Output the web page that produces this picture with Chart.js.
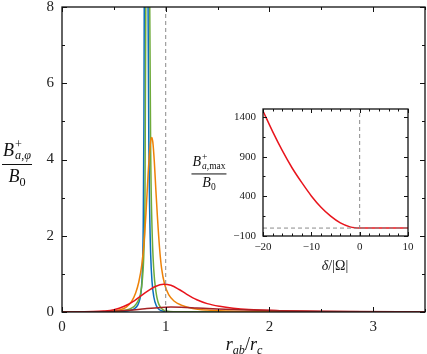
<!DOCTYPE html>
<html><head><meta charset="utf-8">
<script src="https://cdn.jsdelivr.net/npm/chart.js@4/dist/chart.umd.min.js"></script>
<style>
html,body{margin:0;padding:0;background:#fff;}
#wrap{position:relative;width:427px;height:354px;overflow:hidden;}
#main{position:absolute;left:0;top:0;}
#inset{position:absolute;left:180px;top:100px;}
.lbl{position:absolute;font-family:'Liberation Serif','DejaVu Serif',serif;color:#111;white-space:nowrap;line-height:1;}
.frac{display:flex;flex-direction:column;align-items:center;transform:translate(-50%,-50%);}
.frac .num{border-bottom:1px solid #111;padding:0 1px 3px 1px;}
.frac .den{padding-top:2px;}
.ss{display:inline-block;vertical-align:-0.28em;line-height:0.9;margin-left:1px;text-align:left;font-size:0.68em;}
.ss span{display:block;}
.sb{font-size:0.68em;position:relative;top:0.3em;}
.ctr{transform:translate(-50%,-50%);}
</style></head>
<body>
<div id="wrap">
<canvas id="main" width="427" height="354"></canvas>
<canvas id="inset" width="240" height="180"></canvas>
<div class="lbl frac" style="left:17px;top:162px;font-size:18px;">
  <div class="num"><i>B</i><span class="ss"><span>+</span><span><i>a</i>,<i>φ</i></span></span></div>
  <div class="den"><i>B</i><span class="sb">0</span></div>
</div>
<div class="lbl frac" style="left:209px;top:172px;font-size:14px;">
  <div class="num"><i>B</i><span class="ss"><span>+</span><span><i>a</i>,max</span></span></div>
  <div class="den"><i>B</i><span class="sb">0</span></div>
</div>
<div class="lbl ctr" style="left:244px;top:344px;font-size:18px;"><i>r</i><span class="sb"><i>ab</i></span>/<i>r</i><span class="sb"><i>c</i></span></div>
<div class="lbl ctr" style="left:335px;top:266px;font-size:14px;"><i>δ</i>/|Ω|</div>
</div>
<script>
// ---------------- main panel data ----------------
const mainXTicks=[0,0.5,1,1.5,2,2.5,3,3.5];
const mainYTicks=[0,1,2,3,4,5,6,7,8];
const blueX=[0,0.4,0.55,0.65,0.7,0.73,0.75,0.765,0.775,0.783,0.79,0.797,0.81,0.823,0.83,0.837,0.845,0.855,0.868,0.885,0.91,0.94,0.98,1.05,1.3,3.5];
const blueY=[0,0.002,0.01,0.04,0.09,0.18,0.33,0.6,1.1,2.2,5,12,40,12,8,4.5,2.7,1.5,0.8,0.4,0.16,0.06,0.02,0.005,0.001,0];
const greenX=[0,0.4,0.55,0.62,0.67,0.7,0.73,0.755,0.775,0.79,0.8,0.808,0.815,0.827,0.839,0.846,0.855,0.868,0.885,0.905,0.925,0.95,0.98,1.03,1.15,1.5,3.5];
const greenY=[0,0.003,0.02,0.05,0.1,0.16,0.27,0.45,0.85,1.6,3.0,8,14,40,14,8,4.2,2.2,1.1,0.55,0.27,0.12,0.05,0.015,0.004,0.001,0];
const orangeX=[0,0.3,0.45,0.55,0.62,0.67,0.71,0.74,0.77,0.79,0.81,0.83,0.845,0.857,0.866,0.876,0.89,0.905,0.92,0.94,0.96,0.99,1.03,1.08,1.15,1.25,1.4,1.6,2.0,2.6,3.5];
const orangeY=[0,0.003,0.015,0.05,0.13,0.27,0.5,0.78,1.25,1.8,2.6,3.6,4.2,4.52,4.58,4.45,3.95,3.2,2.5,1.7,1.15,0.72,0.45,0.29,0.18,0.1,0.05,0.025,0.01,0.004,0.002];
const redX=[0,0.3,0.4,0.5,0.6,0.7,0.8,0.9,0.98,1.05,1.13,1.2,1.3,1.4,1.52,1.65,1.8,2.1,2.5,3.0,3.5];
const redY=[0,0.01,0.025,0.06,0.15,0.3,0.5,0.67,0.73,0.70,0.59,0.47,0.32,0.22,0.15,0.1,0.065,0.035,0.015,0.007,0.004];
const darkRedX=[0,0.3,0.5,0.65,0.8,0.95,1.05,1.15,1.3,1.5,1.8,2.2,2.8,3.5];
const darkRedY=[0,0.005,0.02,0.045,0.085,0.118,0.128,0.124,0.105,0.08,0.05,0.027,0.012,0.005];
const mainRefX=[1,1];
const mainRefY=[0,8];
// ---------------- inset data ----------------
const insetXTicks=[-20,-18,-16,-14,-12,-10,-8,-6,-4,-2,0,2,4,6,8,10];
const insetYTicks=[-100,150,400,650,900,1150,1400];
const insetMajorX=[-20,-10,0,10];
const insetMajorY=[-100,400,900,1400];
const deltaX=[-20,-18,-16,-14,-12,-10,-8,-6,-4,-2,-1,0,2,4,6,8,10];
const bmaxY=[1475,1215,975,760,575,405,262,150,65,15,3,0,0,0,0,0,0];
const insetVX=[0,0], insetVY=[-100,1500];
const insetHX=[-20,10], insetHY=[0,0];

const FONT='"Liberation Serif","DejaVu Serif",serif';
function pts(xs,ys){return xs.map((x,i)=>({x:x,y:ys[i]}));}
function curve(xs,ys,color){return {data:pts(xs,ys),borderColor:color,borderWidth:1.5,pointRadius:0,fill:false,cubicInterpolationMode:'monotone'};}
function dashed(xs,ys){return {data:pts(xs,ys),borderColor:'#8a8a8a',borderWidth:1,borderDash:[4,3],pointRadius:0,fill:false,tension:0};}
function noPadX(s,h){s.height=h;s.paddingLeft=0;s.paddingRight=0;}
function noPadY(s,w){s.width=w;s.paddingTop=0;s.paddingBottom=0;}

const frameTicks={id:'frameTicks',
  beforeDraw(chart){const {ctx,chartArea:a}=chart;ctx.save();ctx.fillStyle='#fff';ctx.fillRect(a.left,a.top,a.right-a.left,a.bottom-a.top);ctx.restore();},
  afterDraw(chart,args,opts){
  const {ctx,chartArea:a,scales}=chart;const xs=scales.x, ys=scales.y;
  ctx.save();ctx.strokeStyle='#111';ctx.lineWidth=1;ctx.beginPath();
  xs.ticks.forEach(t=>{const p=Math.round(xs.getPixelForValue(t.value))+0.5;const L=(t.label!=='')?opts.major:opts.minor;
    ctx.moveTo(p,a.bottom);ctx.lineTo(p,a.bottom-L);ctx.moveTo(p,a.top);ctx.lineTo(p,a.top+L);});
  ys.ticks.forEach(t=>{const p=Math.round(ys.getPixelForValue(t.value))+0.5;const L=(t.label!=='')?opts.major:opts.minor;
    ctx.moveTo(a.left,p);ctx.lineTo(a.left+L,p);ctx.moveTo(a.right,p);ctx.lineTo(a.right-L,p);});
  ctx.stroke();
  ctx.lineWidth=1.3;ctx.strokeRect(a.left,a.top,a.right-a.left,a.bottom-a.top);
  ctx.restore();}};

new Chart(document.getElementById('main'),{
  type:'line',
  data:{datasets:[dashed(mainRefX,mainRefY),curve(darkRedX,darkRedY,'#a52224'),curve(redX,redY,'#e8141c'),curve(orangeX,orangeY,'#ee8208'),curve(greenX,greenY,'#6fab3a'),curve(blueX,blueY,'#0a6fbd')]},
  options:{responsive:false,animation:false,events:[],
    layout:{padding:{top:7,right:2,left:0,bottom:0}},
    plugins:{legend:{display:false},tooltip:{enabled:false},frameTicks:{major:5,minor:3}},
    scales:{
      x:{type:'linear',min:0,max:3.5,grid:{display:false,drawTicks:false},border:{display:false},
         afterBuildTicks:s=>{s.ticks=mainXTicks.map(v=>({value:v}));},
         afterFit:s=>noPadX(s,42),
         ticks:{autoSkip:false,maxRotation:0,padding:6,color:'#222',font:{family:FONT,size:15},callback:v=>Number.isInteger(v)?String(v):''}},
      y:{type:'linear',min:0,max:8,grid:{display:false,drawTicks:false},border:{display:false},
         afterBuildTicks:s=>{s.ticks=mainYTicks.map(v=>({value:v}));},
         afterFit:s=>noPadY(s,62),
         ticks:{autoSkip:false,padding:8,color:'#222',font:{family:FONT,size:15},callback:v=>(v%2===0)?String(v):''}}
    }},
  plugins:[frameTicks]
});

new Chart(document.getElementById('inset'),{
  type:'line',
  data:{datasets:[dashed(insetVX,insetVY),dashed(insetHX,insetHY),curve(deltaX,bmaxY,'#e8141c')]},
  options:{responsive:false,animation:false,events:[],
    layout:{padding:{top:9,right:12,left:0,bottom:0}},
    plugins:{legend:{display:false},tooltip:{enabled:false},frameTicks:{major:4,minor:2.5}},
    scales:{
      x:{type:'linear',min:-20,max:10,grid:{display:false,drawTicks:false},border:{display:false},
         afterBuildTicks:s=>{s.ticks=insetXTicks.map(v=>({value:v}));},
         afterFit:s=>noPadX(s,44),
         ticks:{autoSkip:false,maxRotation:0,padding:5,color:'#222',font:{family:FONT,size:11},callback:v=>insetMajorX.includes(v)?String(v).replace('-','\u2212'):''}},
      y:{type:'linear',min:-100,max:1500,grid:{display:false,drawTicks:false},border:{display:false},
         afterBuildTicks:s=>{s.ticks=insetYTicks.map(v=>({value:v}));},
         afterFit:s=>noPadY(s,83),
         ticks:{autoSkip:false,padding:7,color:'#222',font:{family:FONT,size:11},callback:v=>insetMajorY.includes(v)?String(v).replace('-','\u2212'):''}}
    }},
  plugins:[frameTicks]
});
</script>
</body></html>
